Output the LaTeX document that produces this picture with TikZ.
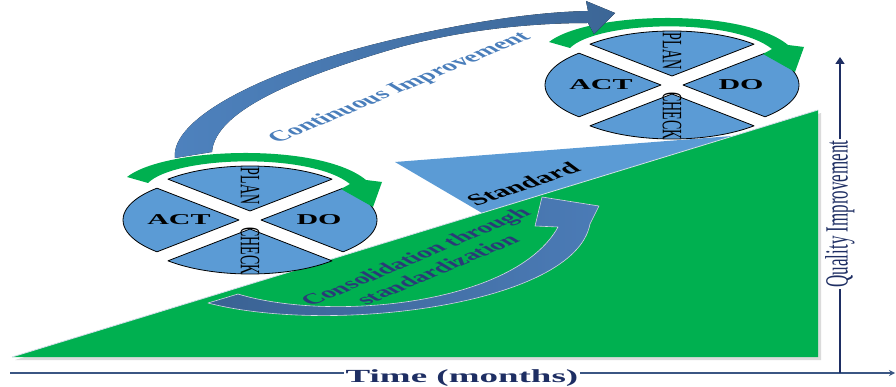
\documentclass[tikz,border=0pt]{standalone}
\usepackage{fontspec}
\setmainfont{Liberation Serif}
\usetikzlibrary{arrows.meta}

\definecolor{pdcagreen}{HTML}{00B050}
\definecolor{wedgeblue}{HTML}{5B9BD5}
\definecolor{arrowblue}{HTML}{4E82BE}
\definecolor{arrowdark}{HTML}{3C6696}
\definecolor{conslight}{HTML}{4B7BB6}
\definecolor{consdark}{HTML}{3A6293}
\definecolor{textnavy}{HTML}{2A3A78}
\definecolor{axisnavy}{HTML}{1E2E63}
\definecolor{axisslate}{HTML}{3B5683}
\definecolor{labelblue}{HTML}{4A7EBB}
\definecolor{edgelight}{HTML}{D5DEEA}

\tikzset{
  wedge/.style={fill=wedgeblue, draw=black, line width=0.8pt, line join=round},
  cyclearrow/.style={fill=pdcagreen},
  quadbold/.style={font=\bfseries\fontsize{15}{15}\selectfont, xscale=2, inner sep=0pt},
  quadvert/.style={font=\fontsize{14}{14}\selectfont, rotate=-90, inner sep=0pt},
  xaxis/.style={draw=axisslate, line width=1.3pt, -{Stealth[length=6pt,width=6pt]}},
  yaxis/.style={draw=axisnavy, line width=1.6pt, -{Triangle[length=7pt,width=9pt]}},
}

% One PDCA wheel: four separated quadrants, labels and the green cycle arrow.
% #1 name prefix, #2 and #3 centre of the wheel
\newcommand\pdcawheel[3]{%
  \begin{scope}[shift={(#2,#3)}]
    \filldraw[wedge] (0,-9) -- plot[smooth, domain=225:315, samples=25] ({116*cos(\x)},{-9+45*sin(\x)}) -- cycle;
    \filldraw[wedge] (11,0) -- plot[smooth, domain=-45:45, samples=25] ({11+116*cos(\x)},{45*sin(\x)}) -- cycle;
    \filldraw[wedge] (0,9) -- plot[smooth, domain=45:135, samples=25] ({116*cos(\x)},{9+45*sin(\x)}) -- cycle;
    \filldraw[wedge] (-11,0) -- plot[smooth, domain=135:225, samples=25] ({-11+116*cos(\x)},{45*sin(\x)}) -- cycle;
    \node[quadvert] (#1-plan) at (0,-34) {\scalebox{1}[2]{PLAN}};
    \node[quadbold] (#1-do) at (69,0) {DO};
    \node[quadvert] (#1-check) at (0,31) {\scalebox{1}[2]{CHECK}};
    \node[quadbold] (#1-act) at (-71,0) {ACT};
    % green cycle arrow over the top, head pointing down on the right
    \fill[cyclearrow] (-123,-43) .. controls (-85,-73) and (70,-78) .. (116,-40)
      -- (132,-38) -- (123,-13) -- (91,-31) -- (100,-36)
      .. controls (60,-68) and (-75,-64) .. (-102,-37) -- cycle;
  \end{scope}}

\begin{document}
\begin{tikzpicture}[x=1pt, y=-1pt]
\useasboundingbox (0,0) rectangle (896,387);

% standard wedge resting on the slope
\fill[wedgeblue] (395,162) -- (482,213) -- (745,135) -- cycle;

% rising quality slope
\fill[black!14] (15,360) -- (821,360) -- (821,113) -- cycle;
\fill[pdcagreen] (12,357) -- (818,357) -- (818,110) -- cycle;
\draw[edgelight, line width=0.8pt] (12,357) -- (818,110);

\node[font=\bfseries\fontsize{16}{16}\selectfont, xscale=2, rotate=34] (standard) at (523,184) {Standard};

% consolidation arrow
\filldraw[left color=consdark, right color=conslight, draw=edgelight, line width=0.6pt, line join=round]
  (208,303) -- (238,294) .. controls (330,322) and (515,305) .. (558,227)
  -- (535,226) -- (542,197) -- (599,206) -- (590,224)
  .. controls (575,305) and (330,335) .. (208,303) -- cycle;
\node[font=\bfseries\fontsize{15}{17}\selectfont, text=textnavy, align=center, xscale=2, rotate=40]
  (consolidation) at (426,263) {Consolidation through\\standardization};

% upper wheel
\pdcawheel{upper}{672}{85}

% continuous improvement arrow
\fill[left color=arrowblue, right color=arrowdark]
  (175,158) .. controls (170,120) and (260,70) .. (400,38)
  .. controls (480,20) and (540,12) .. (588,11)
  -- (586,1) -- (615,13) -- (594,34) -- (588,23)
  .. controls (540,23) and (470,28) .. (400,47)
  .. controls (300,76) and (215,110) .. (212,152) -- cycle;
\node[font=\bfseries\fontsize{15}{15}\selectfont, text=labelblue, xscale=2, rotate=39.7]
  (continuous) at (400,88) {Continuous Improvement};

% lower wheel
\pdcawheel{lower}{250}{220}

% axes
\coordinate (xstart) at (10,373);
\coordinate (xend) at (895,373);
\coordinate (origin) at (840,373);
\coordinate (ytop) at (840,57);
\draw[xaxis] (xstart) -- (xend);
\draw[yaxis] (origin) -- (ytop);
\node[font=\bfseries\fontsize{18.5}{18.5}\selectfont, text=axisnavy, fill=white, inner xsep=1pt, inner ysep=2pt,
  xscale=2, anchor=base] (timelabel) at (462,382) {Time (months)};
\node[font=\fontsize{17}{17}\selectfont, text=axisnavy, fill=white, inner sep=1.5pt,
  rotate=90] (qualitylabel) at (840,214) {\scalebox{1}[1.9]{Quality Improvement}};
\end{tikzpicture}
\end{document}
